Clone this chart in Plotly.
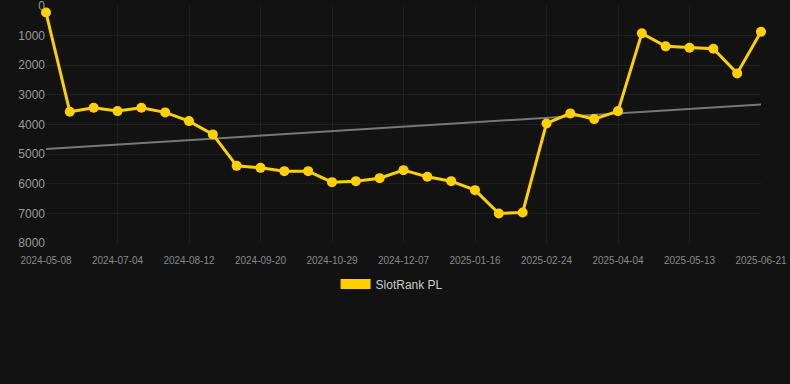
import numpy as np
import plotly.graph_objects as go

dates = ["2024-05-08", "2024-05-27", "2024-06-15", "2024-07-04", "2024-07-17", "2024-07-30",
         "2024-08-12", "2024-08-25", "2024-09-07", "2024-09-20", "2024-10-03", "2024-10-16",
         "2024-10-29", "2024-11-11", "2024-11-24", "2024-12-07", "2024-12-20", "2025-01-03",
         "2025-01-16", "2025-01-29", "2025-02-11", "2025-02-24", "2025-03-09", "2025-03-22",
         "2025-04-04", "2025-04-17", "2025-04-30", "2025-05-13", "2025-05-26", "2025-06-08",
         "2025-06-21"]
rank = [220, 3571, 3436, 3547, 3436, 3591, 3885, 4334, 5395, 5463, 5574, 5574, 5946, 5912,
        5811, 5540, 5766, 5912, 6216, 7004, 6970, 3963, 3625, 3818, 3547, 922, 1361, 1408,
        1442, 2274, 868]
series_name = "SlotRank PL"
tick_labels = dates[::3]
y_ticks = [0, 1000, 2000, 3000, 4000, 5000, 6000, 7000, 8000]

idx = np.arange(len(rank))
slope, intercept = np.polyfit(idx, rank, 1)
trend = intercept + slope * idx

gold = "#FFD000"
fig = go.Figure()
fig.add_trace(go.Scatter(x=dates, y=trend, mode="lines", line=dict(color="#777777", width=2),
                         showlegend=False, hoverinfo="skip"))
fig.add_trace(go.Scatter(x=dates, y=rank, mode="lines+markers", name=series_name,
                         line=dict(color=gold, width=3), marker=dict(color=gold, size=10),
                         showlegend=False, cliponaxis=False))
fig.add_trace(go.Scatter(x=[None], y=[None], mode="lines", name=series_name,
                         line=dict(color=gold, width=10), showlegend=True))

fig.update_layout(
    width=790, height=384,
    paper_bgcolor="#121212", plot_bgcolor="#121212",
    margin=dict(l=46, r=29, t=6, b=141, autoexpand=False),
    font=dict(family="Liberation Sans, Arial, sans-serif", color="#999999"),
    showlegend=True,
    legend=dict(orientation="h", x=0.484, xanchor="center", y=-0.173, yanchor="middle",
                font=dict(size=12, color="#cccccc"), bgcolor="rgba(0,0,0,0)"),
    xaxis=dict(type="category", range=[0, 30], tickvals=tick_labels, ticktext=tick_labels,
               showgrid=True, gridcolor="#1f1f1f", zeroline=False, showline=False,
               tickfont=dict(size=10, color="#888888"), ticks="outside", ticklen=8,
               tickcolor="rgba(0,0,0,0)", automargin=False),
    yaxis=dict(range=[8000, -1], tickvals=y_ticks, ticktext=[str(v) for v in y_ticks],
               showgrid=True, gridcolor="#1f1f1f", zeroline=False, showline=False,
               tickfont=dict(size=12, color="#999999"), ticks="",
               ticklabeloverflow="allow", automargin=False),
)
fig.write_html("out.html", config={"displayModeBar": False},
               post_script="document.body.style.margin='0';document.body.style.background='#121212';")
